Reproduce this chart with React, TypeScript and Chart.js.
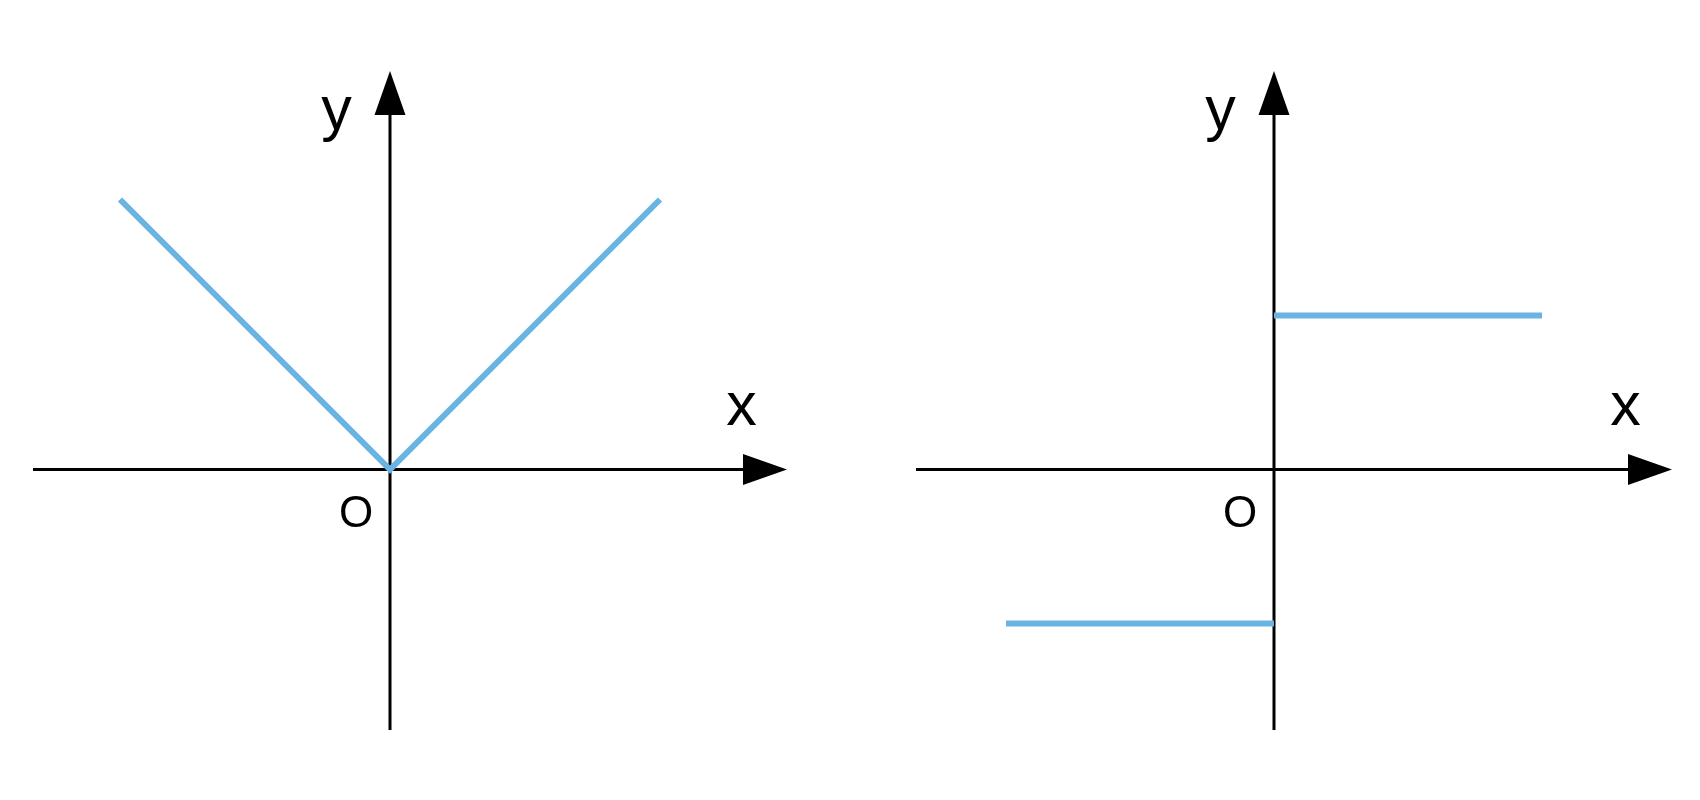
import React, { useEffect, useRef } from "react";
import { Chart, registerables } from "chart.js";

Chart.register(...registerables);

// Left chart: y = |x|
const absX = [-1, 0, 1];
const absY = [1, 0, 1];

// Right chart: y = sgn(x)
const sgnNegX = [-1, 0];
const sgnNegY = [-1, -1];
const sgnPosX = [0, 1];
const sgnPosY = [1, 1];

const axisLabels = { x: "x", y: "y", origin: "O" };

const BLUE = "#6AB4E4";
const BLACK = "#000000";

type AxisCfg = {
  xMin: number; xMax: number; yMin: number; yMax: number;
  xAxisFrom: number; xAxisTo: number; yAxisFrom: number; yAxisTo: number;
};

const axesPlugin = {
  id: "arrowAxes",
  beforeDatasetsDraw(chart: any, _args: any, opts: any) {
    const { ctx } = chart;
    const xs = chart.scales.x;
    const ys = chart.scales.y;
    const x0 = xs.getPixelForValue(0);
    const y0 = ys.getPixelForValue(0);
    const xa = xs.getPixelForValue(opts.xAxisFrom);
    const xb = xs.getPixelForValue(opts.xAxisTo);
    const ya = ys.getPixelForValue(opts.yAxisFrom);
    const yb = ys.getPixelForValue(opts.yAxisTo);
    const L = 44, H = 15.5;
    ctx.save();
    ctx.strokeStyle = BLACK;
    ctx.fillStyle = BLACK;
    ctx.lineWidth = 3;
    // x axis
    ctx.beginPath();
    ctx.moveTo(xa, y0);
    ctx.lineTo(xb - L + 2, y0);
    ctx.stroke();
    ctx.beginPath();
    ctx.moveTo(xb, y0);
    ctx.lineTo(xb - L, y0 - H);
    ctx.lineTo(xb - L, y0 + H);
    ctx.closePath();
    ctx.fill();
    // y axis
    ctx.beginPath();
    ctx.moveTo(x0, ya);
    ctx.lineTo(x0, yb + L - 2);
    ctx.stroke();
    ctx.beginPath();
    ctx.moveTo(x0, yb);
    ctx.lineTo(x0 - H, yb + L);
    ctx.lineTo(x0 + H, yb + L);
    ctx.closePath();
    ctx.fill();
    // labels
    ctx.textAlign = "center";
    ctx.textBaseline = "alphabetic";
    ctx.font = '61px "Liberation Sans", Arial, sans-serif';
    ctx.fillText(axisLabels.y, x0 - 53.5, y0 - 341);
    ctx.fillText(axisLabels.x, x0 + 351.5, y0 - 45);
    ctx.font = '44px "Liberation Sans", Arial, sans-serif';
    ctx.fillText(axisLabels.origin, x0 - 34, y0 + 57);
    ctx.restore();
  },
};

function makeConfig(datasets: any[], a: AxisCfg): any {
  return {
    type: "scatter",
    data: { datasets },
    options: {
      responsive: false,
      animation: false,
      devicePixelRatio: 1,
      layout: { padding: 0 },
      plugins: {
        legend: { display: false },
        tooltip: { enabled: false },
        arrowAxes: a,
      },
      scales: {
        x: { type: "linear", display: false, min: a.xMin, max: a.xMax },
        y: { type: "linear", display: false, min: a.yMin, max: a.yMax },
      },
    },
    plugins: [axesPlugin],
  };
}

const lineStyle = {
  showLine: true,
  borderColor: BLUE,
  borderWidth: 6,
  pointRadius: 0,
  fill: false,
  tension: 0,
};

function toPoints(xs: number[], ys: number[]) {
  return xs.map((x, i) => ({ x, y: ys[i] }));
}

function ChartCanvas({ config, left }: { config: () => any; left: number }) {
  const ref = useRef<HTMLCanvasElement | null>(null);
  useEffect(() => {
    if (!ref.current) return;
    const chart = new Chart(ref.current, config());
    return () => chart.destroy();
  }, []);
  return (
    <canvas
      ref={ref}
      width={850}
      height={800}
      style={{ position: "absolute", left, top: 0, width: 850, height: 800 }}
    />
  );
}

export default function App() {
  const leftCfg = () =>
    makeConfig(
      [{ ...lineStyle, data: toPoints(absX, absY) }],
      {
        xMin: -390 / 270, xMax: 460 / 270, yMin: -330.5 / 270, yMax: 469.5 / 270,
        xAxisFrom: -357 / 270, xAxisTo: 397 / 270, yAxisFrom: -260.5 / 270, yAxisTo: 398.5 / 270,
      }
    );
  const rightCfg = () =>
    makeConfig(
      [
        { ...lineStyle, data: toPoints(sgnNegX, sgnNegY) },
        { ...lineStyle, data: toPoints(sgnPosX, sgnPosY) },
      ],
      {
        xMin: -424 / 268, xMax: 426 / 268, yMin: -330.5 / 154, yMax: 469.5 / 154,
        xAxisFrom: -358 / 268, xAxisTo: 398 / 268, yAxisFrom: -260.5 / 154, yAxisTo: 398.5 / 154,
      }
    );
  return (
    <div style={{ position: "absolute", left: 0, top: 0, width: 1700, height: 800, background: "#fff" }}>
      <ChartCanvas config={leftCfg} left={0} />
      <ChartCanvas config={rightCfg} left={850} />
    </div>
  );
}
